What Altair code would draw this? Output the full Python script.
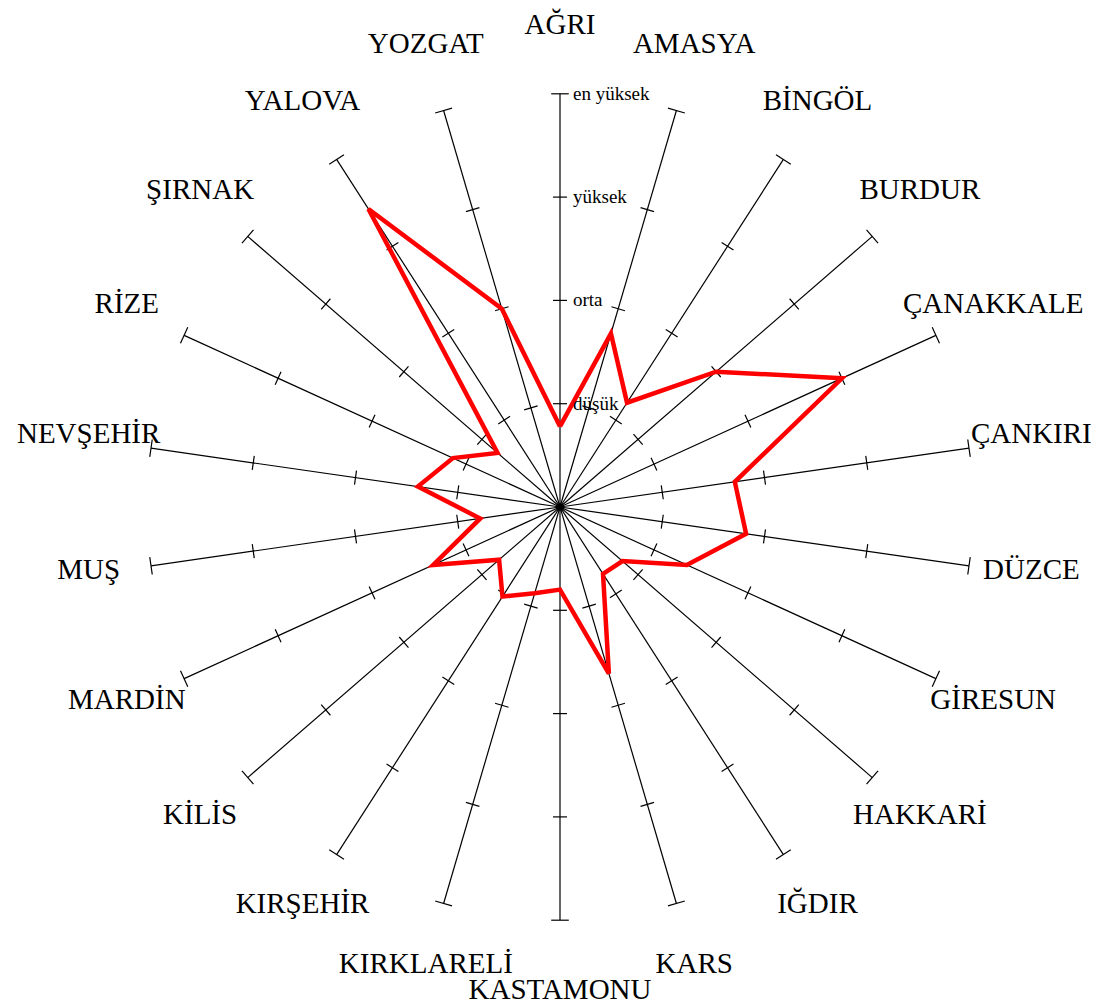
import math
import altair as alt
import pandas as pd

categories = ["AĞRI", "AMASYA", "BİNGÖL", "BURDUR", "ÇANAKKALE", "ÇANKIRI", "DÜZCE",
              "GİRESUN", "HAKKARİ", "IĞDIR", "KARS", "KASTAMONU", "KIRKLARELİ",
              "KIRŞEHİR", "KİLİS", "MARDİN", "MUŞ", "NEVŞEHİR", "RİZE", "ŞIRNAK",
              "YALOVA", "YOZGAT"]
values = [0.78, 1.75, 1.20, 2.00, 3.00, 1.71, 1.82, 1.35, 0.80, 0.77, 1.68,
          0.80, 0.87, 1.03, 0.78, 1.35, 0.78, 1.39, 1.14, 0.80, 3.43, 2.00]
levels = [1, 2, 3, 4]
level_labels = ["düşük", "orta", "yüksek", "en yüksek"]

N = len(categories)
STEP = 2 * math.pi / N
UNIT = 103.3          # px per level
W, H = 1090, 998
CX, CY = 552, 499     # centre within the view
LABEL_RX = 4.61
LABEL_RY = 4.62
LABEL_DY = 0.048      # label ring sits slightly above the axis centre
BOOST = 0.10          # bottom label pushed a bit further out
FONT = "Liberation Serif"

xs = alt.Scale(domain=[-CX / UNIT, (W - CX) / UNIT], nice=False, zero=False)
ys = alt.Scale(domain=[-(H - CY) / UNIT, CY / UNIT], nice=False, zero=False)

cat_df = pd.DataFrame({"idx": list(range(N)), "cat": categories})
line_df = pd.DataFrame({"ord": list(range(N + 1)),
                        "idx": list(range(N)) + [0],
                        "value": values + [values[0]]})
tick_df = pd.DataFrame([{"idx": i, "level": l} for i in range(N) for l in levels])
lvl_df = pd.DataFrame({"level": levels, "label": level_labels})

ang = f"datum.idx * {STEP}"

spokes = alt.Chart(cat_df).transform_calculate(
    x0="0", y0="0",
    x1=f"4 * sin({ang})", y1=f"4 * cos({ang})"
).mark_rule(color="black", strokeWidth=1.2).encode(
    x=alt.X("x0:Q", scale=xs, axis=None),
    y=alt.Y("y0:Q", scale=ys, axis=None),
    x2="x1:Q", y2="y1:Q"
)

ticks = alt.Chart(tick_df).transform_calculate(
    a=ang,
    half="datum.level == 4 ? 0.085 : 0.068",
).transform_calculate(
    tx1="datum.level * sin(datum.a) - datum.half * cos(datum.a)",
    ty1="datum.level * cos(datum.a) + datum.half * sin(datum.a)",
    tx2="datum.level * sin(datum.a) + datum.half * cos(datum.a)",
    ty2="datum.level * cos(datum.a) - datum.half * sin(datum.a)",
).mark_rule(color="black", strokeWidth=1.2).encode(
    x=alt.X("tx1:Q", scale=xs, axis=None),
    y=alt.Y("ty1:Q", scale=ys, axis=None),
    x2="tx2:Q", y2="ty2:Q"
)

centre = alt.Chart(pd.DataFrame({"v": [0]})).mark_point(
    filled=True, color="black", size=60, opacity=1
).encode(
    x=alt.X("v:Q", scale=xs, axis=None),
    y=alt.Y("v:Q", scale=ys, axis=None)
)

poly = alt.Chart(line_df).transform_calculate(
    px=f"datum.value * sin({ang})", py=f"datum.value * cos({ang})"
).mark_line(color="#FF0000", strokeWidth=4.5, strokeJoin="miter").encode(
    x=alt.X("px:Q", scale=xs, axis=None),
    y=alt.Y("py:Q", scale=ys, axis=None),
    order="ord:Q"
)

cat_text = alt.Chart(cat_df).transform_calculate(
    a=ang
).transform_calculate(
    lx=f"{LABEL_RX} * sin(datum.a)",
    ly=f"{LABEL_RY} * cos(datum.a) - {BOOST} * pow(max(0, -cos(datum.a)), 20) + {LABEL_DY}"
).mark_text(font=FONT, fontSize=29, color="black", align="center",
            baseline="middle").encode(
    x=alt.X("lx:Q", scale=xs, axis=None),
    y=alt.Y("ly:Q", scale=ys, axis=None),
    text="cat:N"
)

lvl_text = alt.Chart(lvl_df).transform_calculate(
    zx="0"
).mark_text(font=FONT, fontSize=19, color="black", align="left",
            baseline="middle", dx=13).encode(
    x=alt.X("zx:Q", scale=xs, axis=None),
    y=alt.Y("level:Q", scale=ys, axis=None),
    text="label:N"
)

chart = alt.layer(spokes, ticks, centre, poly, lvl_text, cat_text).properties(
    width=W, height=H,
    autosize=alt.AutoSizeParams(type="none"),
    padding=0,
    background="white"
).configure_view(stroke=None)

chart.save("out.html", embed_options={"renderer": "svg", "actions": False})
